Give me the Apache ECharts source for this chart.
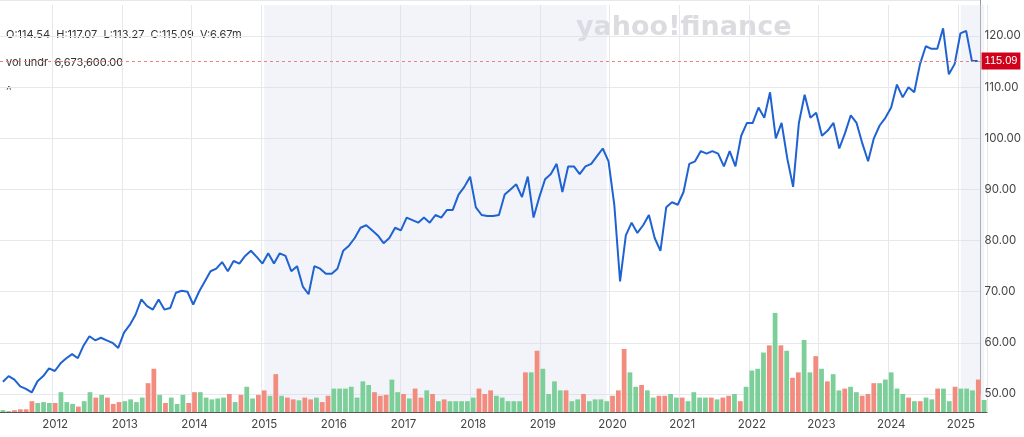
<!DOCTYPE html>
<html><head><meta charset="utf-8">
<script src="https://cdn.jsdelivr.net/npm/echarts@6/dist/echarts.min.js"></script>
<style>html,body{margin:0;padding:0;background:#fff}#c{width:1024px;height:437px}</style>
</head><body><div id="c"></div>
<script>
const startYear = 2011, startMonth = 4;
const price = [
52.4,53.5,52.8,51.5,51.0,50.3,52.5,53.5,55.0,
54.5,56.0,57.0,57.8,57.0,59.5,61.3,60.5,61.0,60.5,60.0,59.0,
62,63.5,65.5,68.5,67.2,66.5,68.5,66.5,66.8,69.8,70.2,70.0,
67.5,70,72,74,74.5,75.8,74,76,75.5,77,78,76.8,
75.5,77.5,75.5,77.5,77,74,75,71,69.5,75,74.5,73.5,
73.5,74.5,78,79,80.5,82.5,83,82,81,79.5,80.5,82.5,
82,84.5,84,83.5,84.5,83.5,85,84.5,86,86,89,90.5,
92.5,86.5,85,84.8,84.8,85,89,90,91,88.5,92.5,84.5,
88.5,92,93,95,89.5,94.5,94.5,93,94.5,95,96.5,98,
95.5,87,72,81,83.5,81.5,83,85,80.5,78,86.5,87.5,
87,89.5,95,95.5,97.5,97,97.5,97,94.5,97.5,94.5,100.5,
103,103,106,104,109,100,103,96,90.5,103,108.5,104,
105,100.5,101.5,103,98,101,104.5,103,99,95.5,100,102.5,
104,106,110.5,108,110,109,114.5,118,117.5,117.5,121.5,112.5,
114.5,120.5,121,115.09,115.09
];
const volume = [
1,0.5,1,1.5,1.5,6,5,5.5,5,
5,11,5.5,4.5,3,6,11,8,9.5,8,4.5,5.5,
6,7,5.5,8,16,24,9.5,5,8,4.5,9.5,5,
11,11,8,7,7.5,8,10,5.5,9.5,14,7.5,9.5,
12,9,21,9,8,7,6.5,8,7,8,5.5,9,
13,13,13,14,8,17,15,11,9,9.5,18,11,
10,7.5,13,8,12,10,6,7,6,6,6,6,
8,13,10,12,9,8,6,6,6,22,22,34,
24,10,17,12,12,6,7,10,6,7,7,6,
9,12,35,22,14,15,12,8,9,9,10,8,
8,6,11,8,8,8,7,8,9,10,6,14,
23,24,33,37,55,37,34,19,22,40,22,31,
24,17,21,12,13,14,11,9,10,16,16,18,
22,13,10,8,6,6,8,7,13,13,6,14,
13,13,12,18,6.67
];
const yearLabels = ['2012','2013','2014','2015','2016','2017','2018','2019','2020','2021','2022','2023','2024','2025'];

const cats = price.map((_, i) => {
  const m = startMonth - 1 + i;
  return (startYear + Math.floor(m / 12)) + '-' + String(m % 12 + 1).padStart(2, '0');
});
const isJan = (i) => cats[i].endsWith('-01');
const green = '#7ccf98', red = '#f28c7f';
const volData = volume.map((v, i) => ({
  value: v,
  itemStyle: { color: (i > 0 && price[i] < price[i - 1]) ? red : green }
}));

const chart = echarts.init(document.getElementById('c'));
const lab = { color: '#444', fontSize: 11.5, fontFamily: 'Inter, Roboto, sans-serif' };
chart.setOption({
  animation: false,
  grid: [
    { left: 0, right: 37, top: 0, height: 394 },
    { left: 0, right: 37, top: 312, bottom: 25 },
    { left: 0, right: 37, top: 5, bottom: 25 }
  ],
  xAxis: [
    { type: 'category', gridIndex: 0, data: cats, show: false },
    { type: 'category', gridIndex: 1, data: cats,
      axisLine: { lineStyle: { color: '#555' } }, axisTick: { show: false },
      axisLabel: Object.assign({ interval: (i) => isJan(i), formatter: (v) => v.slice(0, 4), margin: 7 }, lab),
      splitLine: { show: false } },
    { type: 'category', gridIndex: 2, data: cats, axisLine: { show: false }, axisTick: { show: false },
      axisLabel: { show: false },
      splitLine: { show: true, interval: (i) => isJan(i), lineStyle: { color: '#e6e8ec' } } }
  ],
  yAxis: [
    { type: 'value', gridIndex: 0, position: 'right', min: 50, max: 127.04, interval: 10,
      axisLine: { show: true, lineStyle: { color: '#999' } }, axisTick: { show: false },
      axisLabel: Object.assign({ formatter: (v) => v > 121 ? '' : v.toFixed(2), margin: 4 }, lab),
      splitLine: { lineStyle: { color: '#e6e8ec' } } },
    { type: 'value', gridIndex: 1, min: 0, max: 55.5, show: false },
    { type: 'value', gridIndex: 2, show: false, min: 0, max: 1 }
  ],
  graphic: [
    { type: 'text', left: 6, top: 29, style: { text: 'O:114.54  H:117.07  L:113.27  C:115.09  V:6.67m', fill: '#333', fontSize: 11, fontFamily: 'Inter, sans-serif' } },
    { type: 'text', left: 6, top: 57, style: { text: 'vol undr  6,673,600.00', fill: '#333', fontSize: 11, fontFamily: 'Inter, sans-serif' } },
    { type: 'text', left: 6, top: 84, style: { text: '^', fill: '#555', fontSize: 12, fontFamily: 'Inter, sans-serif' } },
    { type: 'text', left: 576, top: 14, style: { text: 'yahoo!finance', fill: '#dcdce0', fontSize: 27, fontWeight: 'bold', fontFamily: 'DejaVu Sans, sans-serif' } }
  ],
  series: [
    { type: 'line', xAxisIndex: 2, yAxisIndex: 2, data: [], silent: true,
      markArea: { silent: true, itemStyle: { color: 'rgba(215,222,238,0.33)' },
        data: [[{ xAxis: '2015-01' }, { xAxis: '2019-12' }], [{ xAxis: '2025-01' }, { xAxis: cats[cats.length - 1] }]] } },
    { type: 'bar', xAxisIndex: 1, yAxisIndex: 1, data: volData, barCategoryGap: '18%', z: 3,
      markLine: { silent: true, symbol: 'none', lineStyle: { opacity: 0 },
        data: [{ yAxis: 6.67 }],
        label: { position: 'end', formatter: '6.67M', backgroundColor: '#d5d8de', color: '#333', fontSize: 11, padding: [3, 3], distance: 1 } } },
    { type: 'line', xAxisIndex: 0, yAxisIndex: 0, data: price, showSymbol: false, z: 4,
      lineStyle: { color: '#1f63d2', width: 2 }, itemStyle: { color: '#1f63d2' },
      markLine: { silent: true, symbol: 'none', lineStyle: { color: '#ef8080', type: [3, 3], width: 1 },
        data: [{ yAxis: 115.09 }],
        label: { position: 'end', formatter: '115.09', backgroundColor: '#d0021b', color: '#fff', fontSize: 11, padding: [3, 3], distance: 1 } } }
  ]
});
</script></body></html>
